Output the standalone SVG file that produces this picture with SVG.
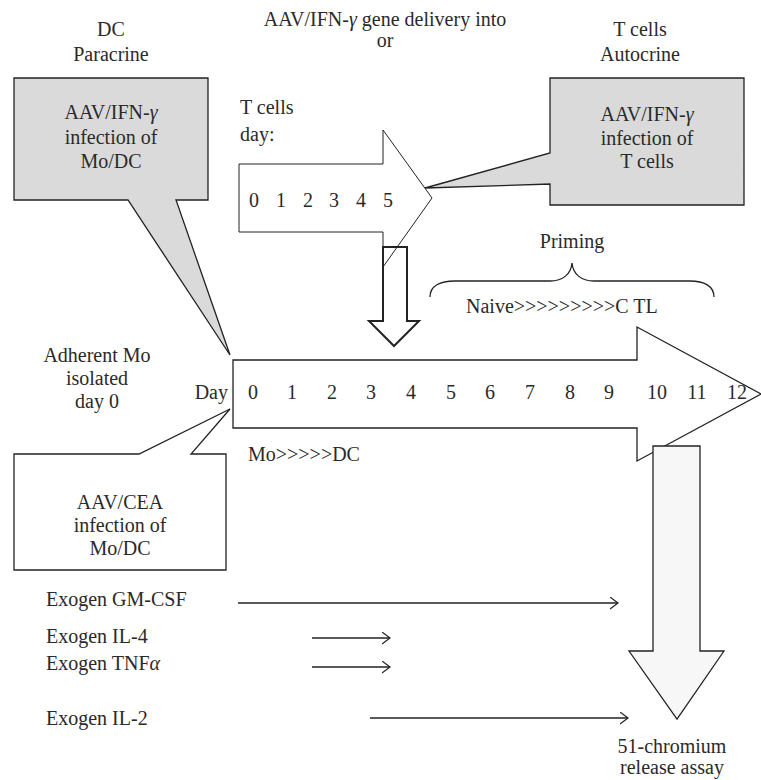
<svg xmlns="http://www.w3.org/2000/svg" width="761" height="780" viewBox="0 0 761 780">
<style>
text{font-family:"Liberation Serif","Times New Roman",serif;font-size:20px;fill:#2a2a2a}
.c{text-anchor:middle}
.r{text-anchor:end}
.shape{stroke:#222;stroke-width:1.3;stroke-linejoin:miter}
.thin{stroke:#222;stroke-width:1;fill:#fff}
.conn{stroke:#222;stroke-width:1.3;fill:none}
</style>
<defs>
<marker id="ah" markerUnits="userSpaceOnUse" markerWidth="10" markerHeight="14" refX="8" refY="6" orient="auto">
<path d="M0,0 L8,6 L0,12" fill="none" stroke="#222" stroke-width="1.2"/>
</marker>
</defs>
<rect width="761" height="780" fill="#fff"/>

<g id="top-title">
<text class="c" x="385" y="26">AAV/IFN-<tspan font-style="italic">γ</tspan> gene delivery into</text>
<text class="c" x="385" y="47">or</text>
</g>

<g id="dc-paracrine">
<text class="c" x="111" y="36">DC</text>
<text class="c" x="111" y="61">Paracrine</text>
<polygon class="shape" fill="#dadada" points="14,78 208,78 208,200 176,200 230,355 128,200 14,200"/>
<text class="c" x="111" y="119">AAV/IFN-<tspan font-style="italic">γ</tspan></text>
<text class="c" x="111" y="144">infection of</text>
<text class="c" x="111" y="168">Mo/DC</text>
</g>

<g id="tcell-arrow">
<text x="240" y="114">T cells</text>
<text x="240" y="141">day:</text>
<polygon class="thin" points="239,164 383,164 383,130 432,198 383,267 383,232 239,232"/>
<text class="c" x="254" y="207">0</text>
<text class="c" x="281" y="207">1</text>
<text class="c" x="308" y="207">2</text>
<text class="c" x="334" y="207">3</text>
<text class="c" x="361" y="207">4</text>
<text class="c" x="388" y="207">5</text>
</g>

<g id="tcells-autocrine">
<text class="c" x="640" y="36">T cells</text>
<text class="c" x="640" y="61">Autocrine</text>
<polygon class="shape" fill="#dadada" points="550,78 744,78 744,205 550,205 550,184 425,188 550,153"/>
<text class="c" x="647" y="121">AAV/IFN-<tspan font-style="italic">γ</tspan></text>
<text class="c" x="647" y="145">infection of</text>
<text class="c" x="647" y="168">T cells</text>
</g>

<g id="priming">
<text class="c" x="572" y="248">Priming</text>
<path class="conn" d="M430,297 C430,286 440,281 455,281 L550,281 C563,281 571,274 572,263 C573,274 581,281 594,281 L690,281 C704,281 714,286 714,297"/>
<text x="466" y="313">Naive&gt;&gt;&gt;&gt;&gt;&gt;&gt;&gt;&gt;C TL</text>
</g>

<g id="main-arrow">
<text class="c" x="97" y="362">Adherent Mo</text>
<text class="c" x="97" y="385">isolated</text>
<text class="c" x="97" y="408">day 0</text>
<polygon class="shape" fill="#fff" points="233,360 637,360 637,327 761,394 637,461 637,428 233,428"/>
<text class="r" x="228" y="399">Day</text>
<text class="c" x="253" y="399">0</text>
<text class="c" x="292" y="399">1</text>
<text class="c" x="332" y="399">2</text>
<text class="c" x="371" y="399">3</text>
<text class="c" x="411" y="399">4</text>
<text class="c" x="451" y="399">5</text>
<text class="c" x="490" y="399">6</text>
<text class="c" x="530" y="399">7</text>
<text class="c" x="570" y="399">8</text>
<text class="c" x="609" y="399">9</text>
<text class="c" x="657" y="399">10</text>
<text class="c" x="697" y="399">11</text>
<text class="c" x="737" y="399">12</text>
<text x="248" y="461">Mo&gt;&gt;&gt;&gt;&gt;DC</text>
</g>

<g id="down-arrow">
<polygon fill="none" stroke="#222" stroke-width="2" points="383,247 407,247 407,321 419,321 394,346 369,321 383,321"/>
</g>

<g id="cea-callout">
<polygon class="shape" fill="#fff" points="14,454 139,454 230,409 191,454 226,454 226,570 14,570"/>
<text class="c" x="120" y="509">AAV/CEA</text>
<text class="c" x="120" y="532">infection of</text>
<text class="c" x="120" y="555">Mo/DC</text>
</g>

<g id="assay-arrow">
<polygon class="shape" fill="#f7f7f7" points="653,446 700,446 700,651 724,651 677,719 629,651 653,651"/>
<text class="c" x="672" y="753">51-chromium</text>
<text class="c" x="672" y="774">release assay</text>
</g>

<g id="exogen-labels">
<text x="46" y="606">Exogen GM-CSF</text>
<text x="46" y="643">Exogen IL-4</text>
<text x="46" y="670">Exogen TNF<tspan font-style="italic">α</tspan></text>
<text x="46" y="725">Exogen IL-2</text>
</g>

<g id="connectors">
<line class="conn" x1="238" y1="603" x2="618" y2="603" marker-end="url(#ah)"/>
<line class="conn" x1="312" y1="638" x2="390" y2="638" marker-end="url(#ah)"/>
<line class="conn" x1="312" y1="667" x2="390" y2="667" marker-end="url(#ah)"/>
<line class="conn" x1="370" y1="718" x2="628" y2="718" marker-end="url(#ah)"/>
</g>
</svg>
